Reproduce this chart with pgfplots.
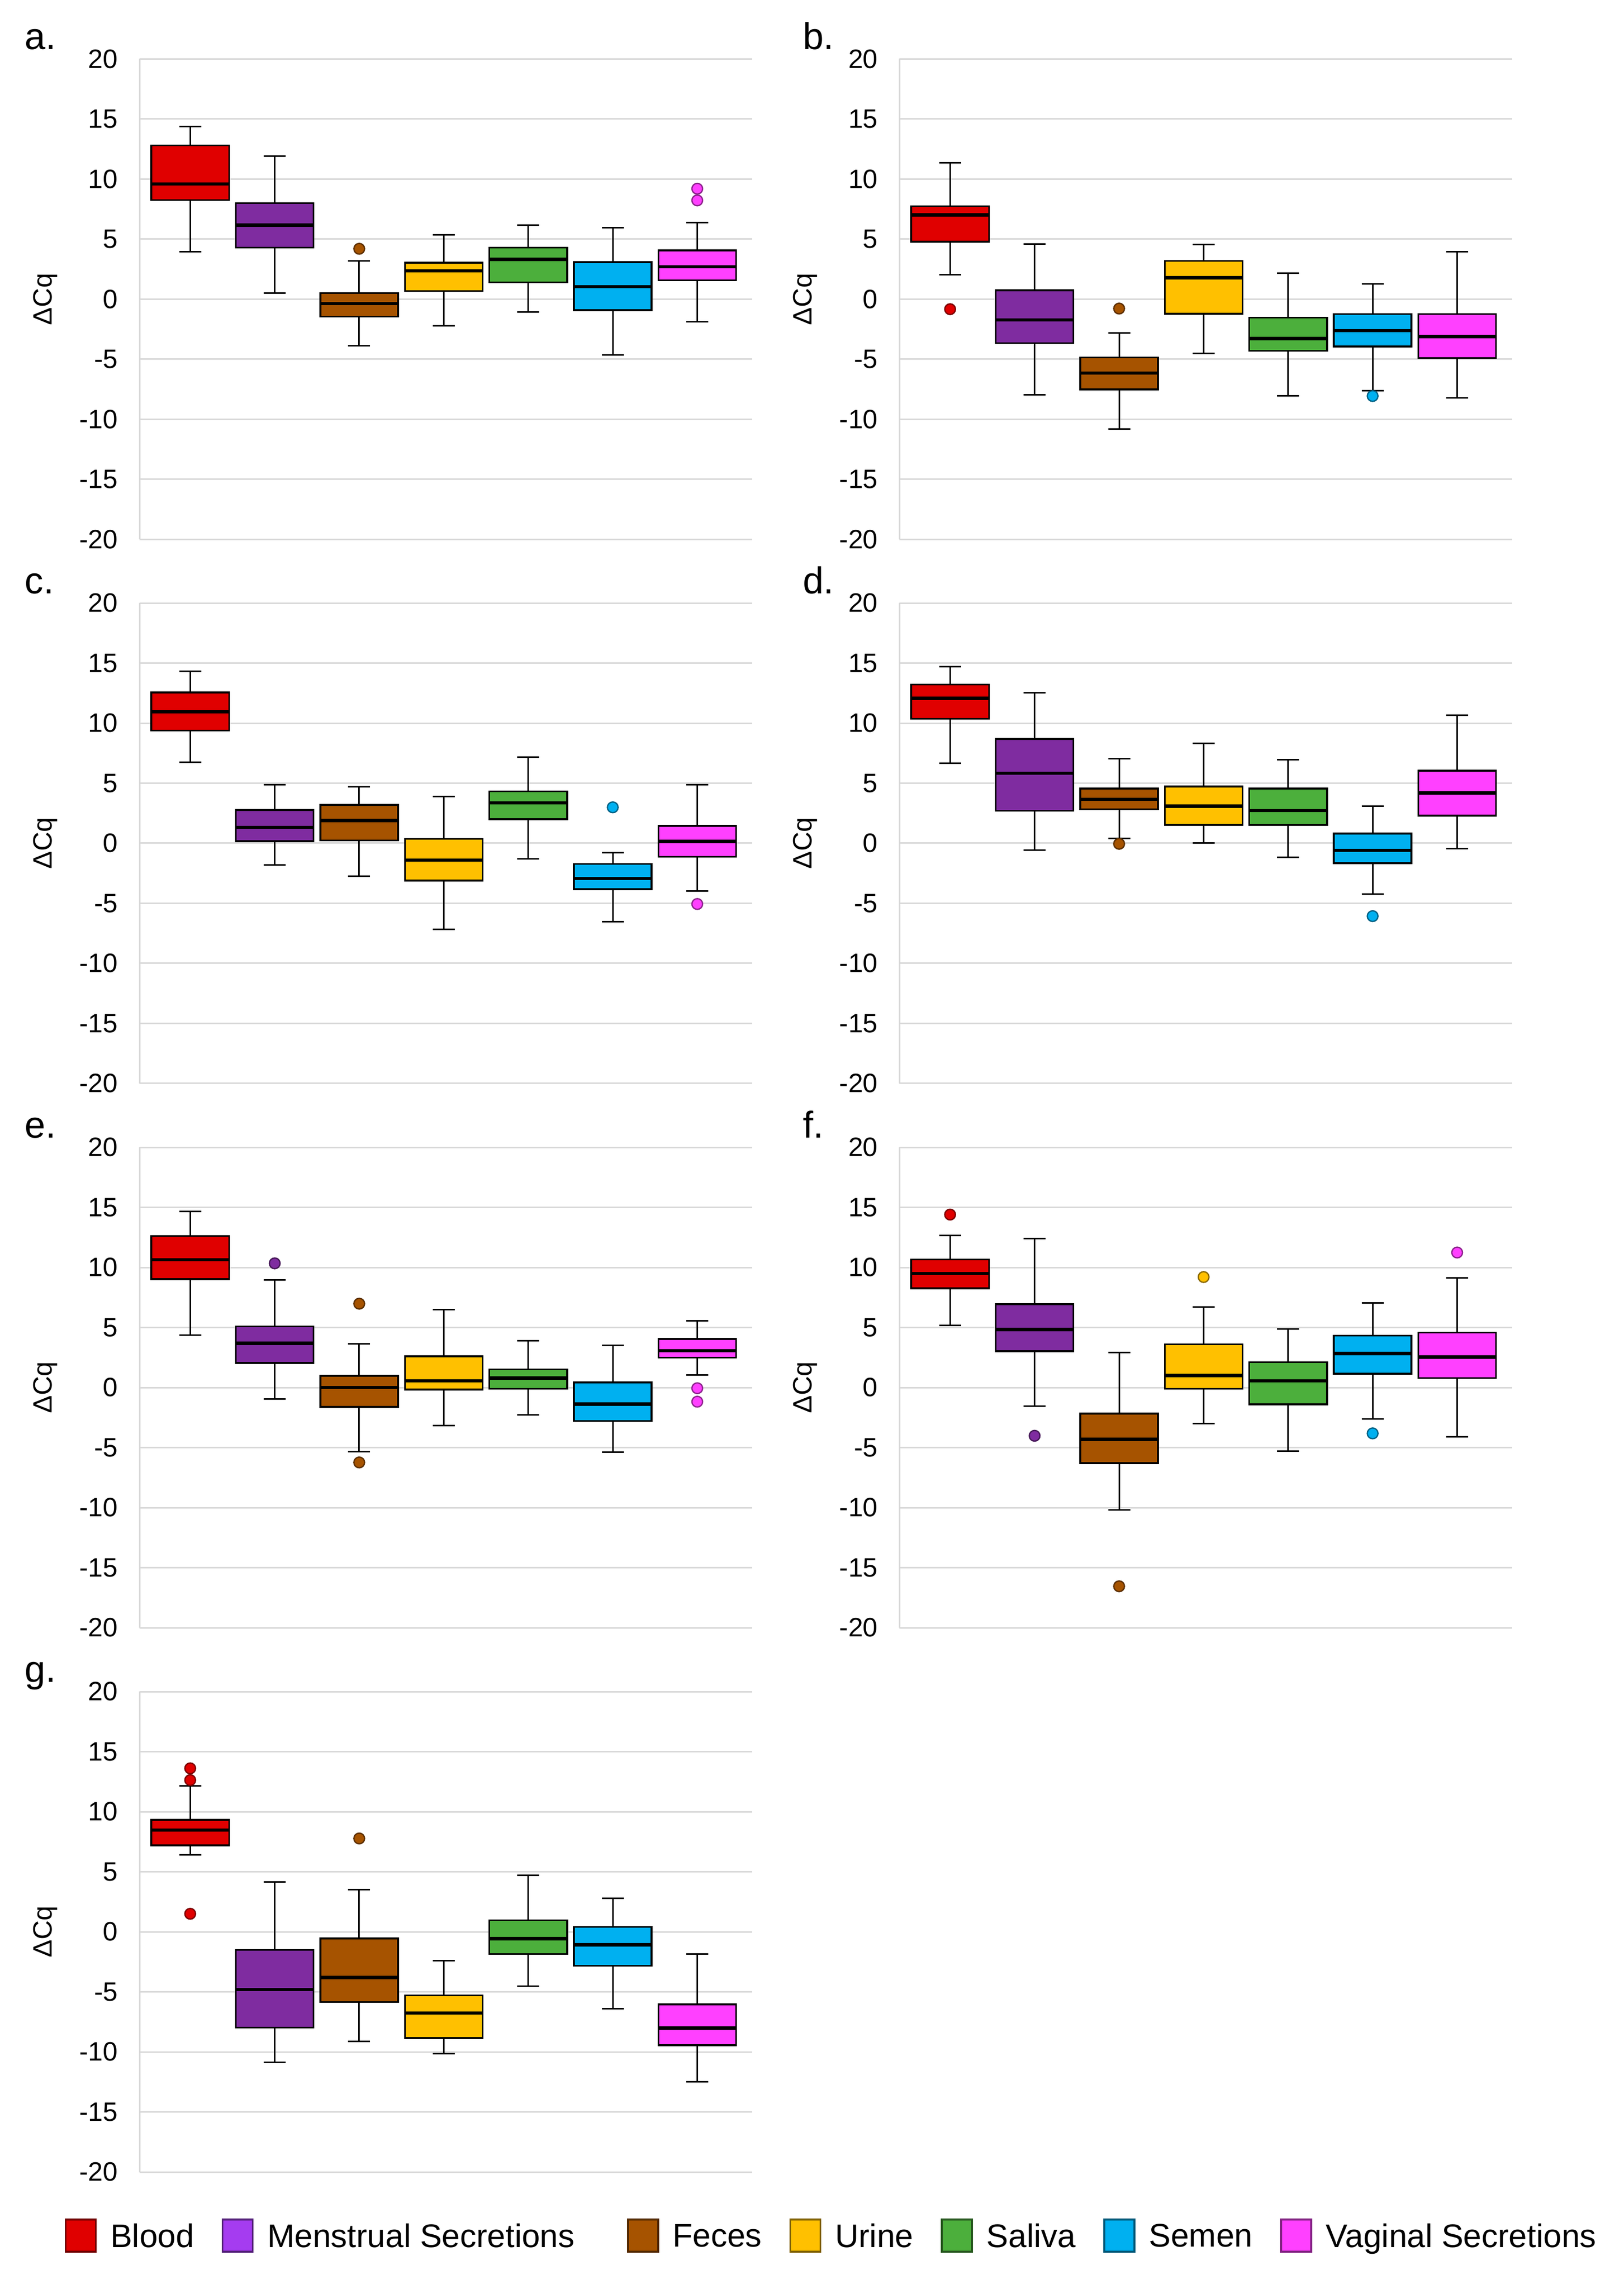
\documentclass[border=0pt]{standalone}
\usepackage{fontspec}
\setmainfont{Liberation Sans}
\usepackage{pgfplots}
\usepackage{pgfplotstable}
\pgfplotsset{compat=1.18}
\usepgfplotslibrary{statistics}

\definecolor{cBlood}{HTML}{E00000}
\definecolor{cMens}{HTML}{7F2CA0}
\definecolor{lMens}{HTML}{A53CF0}
\definecolor{cFeces}{HTML}{A65300}
\definecolor{cUrine}{HTML}{FFC000}
\definecolor{cSaliva}{HTML}{4CAF3C}
\definecolor{cSemen}{HTML}{00B0F0}
\definecolor{cVag}{HTML}{FF40FF}
\definecolor{gridgray}{HTML}{D9D9D9}

% columns: pos, lower whisker, lower quartile, median, upper quartile, upper whisker
\pgfplotstableread{
pos lw lq med uq uw
1 3.97 8.26 9.60 12.80 14.40
2 0.49 4.29 6.16 8.00 11.90
3 -3.88 -1.44 -0.37 0.52 3.17
4 -2.22 0.69 2.36 3.05 5.35
5 -1.06 1.41 3.31 4.29 6.16
6 -4.63 -0.92 1.04 3.08 5.96
7 -1.87 1.58 2.70 4.06 6.39
}\tA
\pgfplotstableread{
pos lw lq med uq uw
1 2.04 4.78 7.02 7.74 11.34
2 -7.94 -3.65 -1.73 0.75 4.58
3 -10.79 -7.51 -6.16 -4.86 -2.82
4 -4.52 -1.21 1.78 3.19 4.55
5 -8.03 -4.29 -3.28 -1.53 2.16
6 -7.63 -3.94 -2.62 -1.24 1.27
7 -8.20 -4.89 -3.11 -1.24 3.97
}\tB
\pgfplotstableread{
pos lw lq med uq uw
1 6.73 9.38 10.96 12.55 14.30
2 -1.81 0.17 1.32 2.76 4.89
3 -2.76 0.23 1.90 3.19 4.72
4 -7.17 -3.11 -1.41 0.37 3.91
5 -1.29 1.99 3.37 4.32 7.19
6 -6.53 -3.83 -2.94 -1.73 -0.78
7 -3.97 -1.12 0.14 1.44 4.89
}\tC
\pgfplotstableread{
pos lw lq med uq uw
1 6.65 10.36 12.06 13.21 14.71
2 -0.58 2.71 5.84 8.69 12.52
3 0.40 2.82 3.65 4.55 7.05
4 0.00 1.53 3.08 4.72 8.32
5 -1.15 1.53 2.73 4.55 6.94
6 -4.23 -1.67 -0.60 0.81 3.08
7 -0.46 2.30 4.20 6.04 10.65
}\tD
\pgfplotstableread{
pos lw lq med uq uw
1 4.37 9.02 10.63 12.61 14.68
2 -0.95 2.04 3.68 5.09 8.97
3 -5.34 -1.61 0.00 0.98 3.65
4 -3.19 -0.17 0.55 2.59 6.47
5 -2.27 -0.11 0.78 1.52 3.88
6 -5.37 -2.79 -1.38 0.43 3.53
7 1.03 2.50 3.07 4.05 5.57
}\tE
\pgfplotstableread{
pos lw lq med uq uw
1 5.17 8.25 9.48 10.66 12.67
2 -1.55 3.02 4.83 6.93 12.41
3 -10.17 -6.29 -4.31 -2.16 2.90
4 -2.99 -0.11 1.01 3.59 6.72
5 -5.29 -1.41 0.55 2.10 4.86
6 -2.61 1.15 2.84 4.31 7.04
7 -4.11 0.78 2.53 4.57 9.11
}\tF
\pgfplotstableread{
pos lw lq med uq uw
1 6.42 7.19 8.46 9.32 12.14
2 -10.88 -7.97 -4.81 -1.50 4.14
3 -9.12 -5.84 -3.80 -0.55 3.51
4 -10.16 -8.86 -6.76 -5.29 -2.42
5 -4.55 -1.84 -0.58 0.95 4.69
6 -6.42 -2.82 -1.09 0.40 2.79
7 -12.49 -9.44 -8.03 -6.04 -1.87
}\tG

% #1 table, #2 row, #3 position, #4 colour, #5 outliers
\newcommand{\bx}[5]{%
  \pgfplotstablegetelem{#2}{lw}\of#1\let\vlw\pgfplotsretval
  \pgfplotstablegetelem{#2}{lq}\of#1\let\vlq\pgfplotsretval
  \pgfplotstablegetelem{#2}{med}\of#1\let\vmed\pgfplotsretval
  \pgfplotstablegetelem{#2}{uq}\of#1\let\vuq\pgfplotsretval
  \pgfplotstablegetelem{#2}{uw}\of#1\let\vuw\pgfplotsretval
  \edef\bxcmd{\noexpand\addplot[forget plot, draw=black, fill=#4, line width=0.7pt,
    mark=*, mark size=2.1pt,
    mark options={solid, fill=#4, draw=#4!55!black, line width=0.5pt},
    boxplot prepared={draw position=#3,
      lower whisker=\vlw, lower quartile=\vlq, median=\vmed,
      upper quartile=\vuq, upper whisker=\vuw}]
    coordinates {#5};}%
  \bxcmd}

\pgfplotsset{
  panelax/.style={
    scale only axis, width=239.8pt, height=188pt,
    xmin=0.4, xmax=7.65, ymin=-20, ymax=20,
    ytick={-20,-15,-10,-5,0,5,10,15,20},
    xtick=\empty,
    ymajorgrids=true,
    grid style={line width=0.6pt, draw=gridgray},
    axis x line=none,
    axis y line*=left,
    y axis line style={line width=0.6pt, draw=gridgray},
    major tick length=0pt,
    yticklabel style={font=\fontsize{10.4pt}{12pt}\selectfont, xshift=-4.9pt},
    /pgf/number format/assume math mode=true,
    ylabel={ΔCq},
    every axis y label/.style={at={(axis description cs:-0.1535,0.5)}, rotate=90, anchor=center, font=\fontsize{10.4pt}{12pt}\selectfont},
    boxplot/draw direction=y,
    boxplot/box extend=0.92,
    boxplot/whisker extend=0.26,
    boxplot/every median/.style={line width=1.3pt},
    boxplot/every whisker/.style={line width=0.6pt},
    clip=false,
  },
  legsq/.style={legend image code/.code={\draw[fill=#1, draw=#1!50!black, line width=0.7pt] (0pt,-5.6pt) rectangle (11.8pt,7.0pt);}},
}

\begin{document}
\begin{tikzpicture}
\useasboundingbox (0,0) rectangle (635.4pt,-895.8pt);

\tikzset{plab/.style={anchor=base west, font=\fontsize{14.6pt}{17pt}\selectfont, inner sep=0pt}}
\node[plab] at (9.5pt,-19.4pt) {a.};
\node[plab] at (314pt,-19.4pt) {b.};
\node[plab] at (9.5pt,-232.2pt) {c.};
\node[plab] at (314pt,-232.2pt) {d.};
\node[plab] at (9.5pt,-445.2pt) {e.};
\node[plab] at (314pt,-445.2pt) {f.};
\node[plab] at (9.5pt,-658.2pt) {g.};

% a
\begin{axis}[panelax, at={(54.6pt,-23.1pt)}, anchor=north west]
\bx{\tA}{0}{1}{cBlood}{}
\bx{\tA}{1}{2}{cMens}{}
\bx{\tA}{2}{3}{cFeces}{(0,4.2)}
\bx{\tA}{3}{4}{cUrine}{}
\bx{\tA}{4}{5}{cSaliva}{}
\bx{\tA}{5}{6}{cSemen}{}
\bx{\tA}{6}{7}{cVag}{(0,9.2) (0,8.23)}
\end{axis}

% b
\begin{axis}[panelax, at={(352pt,-23.1pt)}, anchor=north west]
\bx{\tB}{0}{1}{cBlood}{(0,-0.83)}
\bx{\tB}{1}{2}{cMens}{}
\bx{\tB}{2}{3}{cFeces}{(0,-0.78)}
\bx{\tB}{3}{4}{cUrine}{}
\bx{\tB}{4}{5}{cSaliva}{}
\bx{\tB}{5}{6}{cSemen}{(0,-8.06)}
\bx{\tB}{6}{7}{cVag}{}
\end{axis}

% c
\begin{axis}[panelax, at={(54.6pt,-236pt)}, anchor=north west]
\bx{\tC}{0}{1}{cBlood}{}
\bx{\tC}{1}{2}{cMens}{}
\bx{\tC}{2}{3}{cFeces}{}
\bx{\tC}{3}{4}{cUrine}{}
\bx{\tC}{4}{5}{cSaliva}{}
\bx{\tC}{5}{6}{cSemen}{(0,2.99)}
\bx{\tC}{6}{7}{cVag}{(0,-5.06)}
\end{axis}

% d
\begin{axis}[panelax, at={(352pt,-236pt)}, anchor=north west]
\bx{\tD}{0}{1}{cBlood}{}
\bx{\tD}{1}{2}{cMens}{}
\bx{\tD}{2}{3}{cFeces}{(0,-0.05)}
\bx{\tD}{3}{4}{cUrine}{}
\bx{\tD}{4}{5}{cSaliva}{}
\bx{\tD}{5}{6}{cSemen}{(0,-6.07)}
\bx{\tD}{6}{7}{cVag}{}
\end{axis}

% e
\begin{axis}[panelax, at={(54.6pt,-449pt)}, anchor=north west]
\bx{\tE}{0}{1}{cBlood}{}
\bx{\tE}{1}{2}{cMens}{(0,10.34)}
\bx{\tE}{2}{3}{cFeces}{(0,6.98) (0,-6.24)}
\bx{\tE}{3}{4}{cUrine}{}
\bx{\tE}{4}{5}{cSaliva}{}
\bx{\tE}{5}{6}{cSemen}{}
\bx{\tE}{6}{7}{cVag}{(0,-0.06) (0,-1.18)}
\end{axis}

% f
\begin{axis}[panelax, at={(352pt,-449pt)}, anchor=north west]
\bx{\tF}{0}{1}{cBlood}{(0,14.4)}
\bx{\tF}{1}{2}{cMens}{(0,-4.02)}
\bx{\tF}{2}{3}{cFeces}{(0,-16.55)}
\bx{\tF}{3}{4}{cUrine}{(0,9.2)}
\bx{\tF}{4}{5}{cSaliva}{}
\bx{\tF}{5}{6}{cSemen}{(0,-3.82)}
\bx{\tF}{6}{7}{cVag}{(0,11.24)}
\end{axis}

% g with legend
\begin{axis}[panelax, at={(54.6pt,-662pt)}, anchor=north west,
  legend columns=7,
  legend cell align=left,
  legend style={at={(1.132,-0.136)}, anchor=center, draw=none, fill=none,
    font=\fontsize{12.8pt}{15pt}\selectfont,
    /tikz/every odd column/.append style={column sep=3.4pt},
    /tikz/every even column/.append style={column sep=8.8pt}},
]
\bx{\tG}{0}{1}{cBlood}{(0,13.61) (0,12.63) (0,1.5)}
\bx{\tG}{1}{2}{cMens}{}
\bx{\tG}{2}{3}{cFeces}{(0,7.77)}
\bx{\tG}{3}{4}{cUrine}{}
\bx{\tG}{4}{5}{cSaliva}{}
\bx{\tG}{5}{6}{cSemen}{}
\bx{\tG}{6}{7}{cVag}{}
\addlegendimage{legsq=cBlood}\addlegendentry{Blood}
\addlegendimage{legsq=lMens}\addlegendentry{Menstrual Secretions\hspace*{9.7pt}}
\addlegendimage{legsq=cFeces}\addlegendentry{Feces}
\addlegendimage{legsq=cUrine}\addlegendentry{Urine}
\addlegendimage{legsq=cSaliva}\addlegendentry{Saliva}
\addlegendimage{legsq=cSemen}\addlegendentry{Semen}
\addlegendimage{legsq=cVag}\addlegendentry{Vaginal Secretions}
\end{axis}
\end{tikzpicture}
\end{document}
